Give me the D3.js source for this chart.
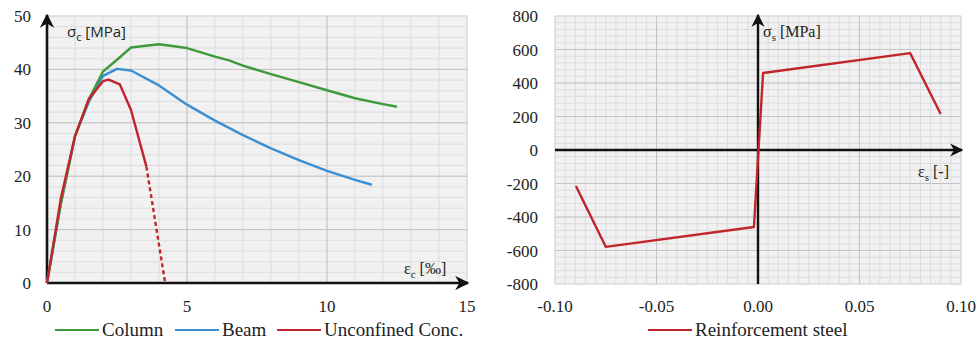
<!DOCTYPE html>
<html lang="en">
<head>
<meta charset="utf-8">
<title>stress-strain</title>
<script src="https://cdn.jsdelivr.net/npm/d3@7"></script>
<style>
    body { margin: 0; background: #fff; }
    .tick-label { font-family: "Times New Roman", "Liberation Serif", "DejaVu Serif", serif; font-size: 17px; fill: #222; }
    .legend text { font-family: "Times New Roman", "Liberation Serif", "DejaVu Serif", serif; font-size: 19px; fill: #222; }
    .grid-minor { stroke: #dcdcdc; stroke-width: 1; }
    .grid-major { stroke: #c4c4c4; stroke-width: 1; }
    .curve { fill: none; stroke-width: 2.4; stroke-linejoin: round; }
</style>
</head>
<body>
<div id="chart"></div>
<script>

// concrete curves: strain [permille], stress [MPa]
var columnStrain = [0, 0.5, 1, 1.5, 2, 2.5, 3, 4, 5, 6, 6.5, 7, 8, 9, 10, 11, 12, 12.5];
var columnStress = [0, 15, 27.5, 34.5, 39.6, 41.8, 44.1, 44.7, 44, 42.4, 41.7, 40.7, 39.1, 37.6, 36.1, 34.6, 33.5, 33];

var beamStrain = [0, 0.5, 1, 1.5, 2, 2.5, 3, 4, 5, 6, 7, 8, 9, 10, 11, 11.6];
var beamStress = [0, 15, 27.5, 34, 38.8, 40.1, 39.8, 37, 33.4, 30.4, 27.7, 25.2, 23, 21, 19.3, 18.4];

var unconfStrain = [0, 0.5, 1, 1.5, 2, 2.2, 2.6, 3, 3.55];
var unconfStress = [0, 16, 27.5, 34.5, 37.8, 38.1, 37.2, 32.4, 21.8];
var unconfDashStrain = [3.55, 4.22];
var unconfDashStress = [21.8, 0];

// steel curve: strain [-], stress [MPa]
var steelStrain = [-0.0897, -0.075, -0.002, 0.0025, 0.075, 0.09];
var steelStress = [-215, -578, -460, 460, 578, 215];

var leftXTicks = [0, 5, 10, 15];
var leftYTicks = [0, 10, 20, 30, 40, 50];
var rightXTicks = [-0.10, -0.05, 0.00, 0.05, 0.10];
var rightYTicks = [-800, -600, -400, -200, 0, 200, 400, 600, 800];

var green = "#3f9a3c", blue = "#3a8ed2", red = "#c2242b";

var svg = d3.select("#chart").append("svg")
    .attr("width", 979)
    .attr("height", 347);

var defs = svg.append("defs");
defs.append("marker")
    .attr("id", "arrow")
    .attr("viewBox", "0 0 10 10")
    .attr("refX", 9).attr("refY", 5)
    .attr("markerWidth", 5.5).attr("markerHeight", 5.5)
    .attr("markerUnits", "strokeWidth")
    .attr("orient", "auto")
    .append("path")
    .attr("d", "M0,0 L10,5 L0,10 L3,5 Z")
    .attr("fill", "#111");

function zip(a, b) {
    return a.map(function (v, i) { return [v, b[i]]; });
}

function drawGrid(g, x, y, xMinor, xMajor, yMinor, yMajor) {
    var x0 = x.range()[0], x1 = x.range()[1], y0 = y.range()[0], y1 = y.range()[1];
    g.append("rect")
        .attr("x", x0).attr("y", y1)
        .attr("width", x1 - x0).attr("height", y0 - y1)
        .attr("fill", "#f1f1f1")
        .attr("stroke", "#d4d4d4");
    g.selectAll(".vminor").data(xMinor).enter().append("line")
        .attr("class", "grid-minor")
        .attr("x1", function (d) { return x(d); }).attr("x2", function (d) { return x(d); })
        .attr("y1", y0).attr("y2", y1);
    g.selectAll(".hminor").data(yMinor).enter().append("line")
        .attr("class", "grid-minor")
        .attr("y1", function (d) { return y(d); }).attr("y2", function (d) { return y(d); })
        .attr("x1", x0).attr("x2", x1);
    g.selectAll(".vmajor").data(xMajor).enter().append("line")
        .attr("class", "grid-major")
        .attr("x1", function (d) { return x(d); }).attr("x2", function (d) { return x(d); })
        .attr("y1", y0).attr("y2", y1);
    g.selectAll(".hmajor").data(yMajor).enter().append("line")
        .attr("class", "grid-major")
        .attr("y1", function (d) { return y(d); }).attr("y2", function (d) { return y(d); })
        .attr("x1", x0).attr("x2", x1);
}

// ---------- left chart (concrete) ----------
var xL = d3.scaleLinear().domain([0, 15]).range([47, 467]);
var yL = d3.scaleLinear().domain([0, 50]).range([283, 16]);

var left = svg.append("g");
drawGrid(left, xL, yL, d3.range(0, 15.01, 1), [5, 10], d3.range(0, 50.01, 2), [10, 20, 30, 40]);

var lineL = d3.line()
    .x(function (d) { return xL(d[0]); })
    .y(function (d) { return yL(d[1]); });

// axes with arrows
left.append("line")
    .attr("x1", xL(0)).attr("y1", yL(0)).attr("x2", xL(15) + 1).attr("y2", yL(0))
    .attr("stroke", "#111").attr("stroke-width", 2.6).attr("marker-end", "url(#arrow)");
left.append("line")
    .attr("x1", xL(0)).attr("y1", yL(0)).attr("x2", xL(0)).attr("y2", yL(50) - 1)
    .attr("stroke", "#111").attr("stroke-width", 2.6).attr("marker-end", "url(#arrow)");

left.append("path").datum(zip(unconfDashStrain, unconfDashStress))
    .attr("class", "curve").attr("stroke", red).attr("stroke-dasharray", "4,3").attr("d", lineL);
left.append("path").datum(zip(beamStrain, beamStress))
    .attr("class", "curve").attr("stroke", blue).attr("d", lineL);
left.append("path").datum(zip(columnStrain, columnStress))
    .attr("class", "curve").attr("stroke", green).attr("d", lineL);
left.append("path").datum(zip(unconfStrain, unconfStress))
    .attr("class", "curve").attr("stroke", red).attr("d", lineL);

left.selectAll(".xt").data(leftXTicks).enter().append("text")
    .attr("class", "tick-label")
    .attr("x", function (d) { return xL(d); })
    .attr("y", 312)
    .attr("text-anchor", "middle")
    .text(function (d) { return d; });
left.selectAll(".yt").data(leftYTicks).enter().append("text")
    .attr("class", "tick-label")
    .attr("x", 31)
    .attr("y", function (d) { return yL(d) + 6; })
    .attr("text-anchor", "end")
    .text(function (d) { return d; });

var sigC = left.append("text")
    .attr("x", 67).attr("y", 37)
    .style("font-family", "'Open Sans', 'DejaVu Sans', sans-serif")
    .style("font-size", "15px").attr("fill", "#222");
sigC.append("tspan").text("σ");
sigC.append("tspan").attr("dy", 4).style("font-size", "11px").text("c");
sigC.append("tspan").attr("dy", -4).text(" [MPa]");

var epsC = left.append("text")
    .attr("x", 404).attr("y", 274)
    .attr("class", "tick-label").style("font-size", "16px");
epsC.append("tspan").text("ε");
epsC.append("tspan").attr("dy", 4).style("font-size", "11px").text("c");
epsC.append("tspan").attr("dy", -4).text(" [‰]");

// ---------- right chart (steel) ----------
var xR = d3.scaleLinear().domain([-0.1, 0.1]).range([555, 961]);
var yR = d3.scaleLinear().domain([-800, 800]).range([284, 16]);

var right = svg.append("g");
drawGrid(right, xR, yR, d3.range(-0.1, 0.1001, 0.005), [-0.05, 0, 0.05], d3.range(-800, 801, 40), [-600, -400, -200, 200, 400, 600]);

var lineR = d3.line()
    .x(function (d) { return xR(d[0]); })
    .y(function (d) { return yR(d[1]); });

right.append("line")
    .attr("x1", xR(-0.1)).attr("y1", yR(0)).attr("x2", xR(0.1) + 1).attr("y2", yR(0))
    .attr("stroke", "#111").attr("stroke-width", 2.4).attr("marker-end", "url(#arrow)");
right.append("line")
    .attr("x1", xR(0)).attr("y1", yR(-800)).attr("x2", xR(0)).attr("y2", yR(800) - 1)
    .attr("stroke", "#111").attr("stroke-width", 2.4).attr("marker-end", "url(#arrow)");

right.append("path").datum(zip(steelStrain, steelStress))
    .attr("class", "curve").attr("stroke", red).attr("d", lineR);

right.selectAll(".xt").data(rightXTicks).enter().append("text")
    .attr("class", "tick-label")
    .attr("x", function (d) { return xR(d); })
    .attr("y", 312)
    .attr("text-anchor", "middle")
    .text(function (d) { return d3.format(".2f")(d).replace("−", "-"); });
right.selectAll(".yt").data(rightYTicks).enter().append("text")
    .attr("class", "tick-label")
    .attr("x", 538)
    .attr("y", function (d) { return yR(d) + 6; })
    .attr("text-anchor", "end")
    .text(function (d) { return d; });

var sigS = right.append("text")
    .attr("x", 763).attr("y", 37)
    .attr("class", "tick-label").style("font-size", "16px");
sigS.append("tspan").text("σ");
sigS.append("tspan").attr("dy", 4).style("font-size", "11px").text("s");
sigS.append("tspan").attr("dy", -4).text(" [MPa]");

var epsS = right.append("text")
    .attr("x", 918).attr("y", 177)
    .attr("class", "tick-label").style("font-size", "16px");
epsS.append("tspan").text("ε");
epsS.append("tspan").attr("dy", 4).style("font-size", "11px").text("s");
epsS.append("tspan").attr("dy", -4).text(" [-]");

// ---------- legends ----------
var legendItems = [
    {name: "Column", color: green, x: 55},
    {name: "Beam", color: blue, x: 175},
    {name: "Unconfined Conc.", color: red, x: 277},
    {name: "Reinforcement steel", color: red, x: 648}
];
var legend = svg.append("g").attr("class", "legend");
var li = legend.selectAll("g").data(legendItems).enter().append("g")
    .attr("transform", function (d) { return "translate(" + d.x + ",330)"; });
li.append("line")
    .attr("x1", 0).attr("x2", 44).attr("y1", 0).attr("y2", 0)
    .attr("stroke", function (d) { return d.color; })
    .attr("stroke-width", 2.2);
li.append("text")
    .attr("x", 47).attr("y", 6)
    .text(function (d) { return d.name; });

</script>
</body>
</html>
